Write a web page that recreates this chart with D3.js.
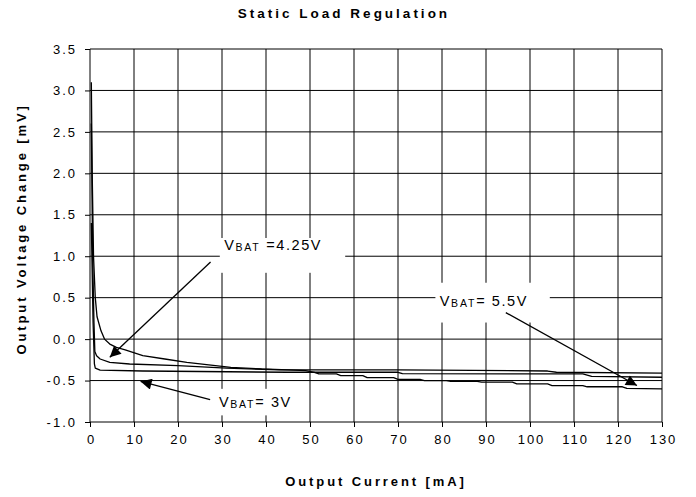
<!DOCTYPE html>
<html lang="en">
<meta charset="UTF-8">
<style>
    html, body{margin:0;padding:0;background:#fff;overflow:hidden;}
    svg{display:block;}
    text{font-family:"Liberation Sans",Arial,sans-serif;fill:#000;}
    .axis text{font-size:13px;letter-spacing:2px;}
    .axis path, .axis line{stroke:#000;}
    .grid line{stroke:#000;stroke-width:1;}
    .curve{fill:none;stroke:#000;stroke-width:1.3;stroke-linejoin:round;}
    .note{font-size:14.5px;letter-spacing:1.6px;}
    .note .sub{font-size:10.5px;letter-spacing:1.8px;}
    .title{font-size:13.5px;font-weight:bold;letter-spacing:3px;}
    .atitle{font-size:13px;font-weight:bold;letter-spacing:2.9px;}
</style>
<body>
<div id="chart"></div>
<script src="https://d3js.org/d3.v7.min.js"></script>
<script>
    // tick values
    var xTicks = [0,10,20,30,40,50,60,70,80,90,100,110,120,130];
    var yTicks = [-1.0,-0.5,0.0,0.5,1.0,1.5,2.0,2.5,3.0,3.5];

    // VBAT = 5.5V  (output current mA / output voltage change mV)
    var i55 = [0.3,0.5,0.8,1.2,1.6,2.5,3.3,4.5,6,8,12,17,22,27,32,39,45,49,51,52,56,57,62,63,69,70,75,76,81,82,88,89,96,97,104,105,112,113,121,122,130];
    var v55 = [3.1,2.0,1.0,0.5,0.27,0.1,0.0,-0.06,-0.1,-0.13,-0.2,-0.24,-0.28,-0.31,-0.34,-0.36,-0.37,-0.38,-0.40,-0.42,-0.42,-0.44,-0.44,-0.465,-0.465,-0.485,-0.485,-0.50,-0.50,-0.51,-0.51,-0.52,-0.52,-0.54,-0.54,-0.56,-0.56,-0.575,-0.575,-0.595,-0.60];

    // VBAT = 4.25V
    var i425 = [0.3,0.6,0.9,1.1,1.5,2.3,4.5,9,20,31,43,70,104,106,130];
    var v425 = [2.6,1.0,0.2,-0.15,-0.2,-0.24,-0.28,-0.30,-0.32,-0.35,-0.37,-0.37,-0.385,-0.40,-0.41];

    // VBAT = 3V
    var i3 = [0.3,0.7,1.0,1.2,2.3,12,45,70,71,112,114,130];
    var v3 = [1.4,0.2,-0.3,-0.35,-0.375,-0.385,-0.40,-0.40,-0.417,-0.42,-0.45,-0.46];

    var width = 696, height = 497;
    var margin = {top:49, right:34, bottom:75, left:90};
    var innerWidth = width-margin.left-margin.right;
    var innerHeight = height-margin.top-margin.bottom;

    var svg = d3.select("#chart").append("svg")
        .attr("width", width)
        .attr("height", height);

    var x = d3.scaleLinear().domain([0,130]).range([margin.left, margin.left+innerWidth]);
    var y = d3.scaleLinear().domain([-1,3.5]).range([margin.top+innerHeight, margin.top]);

    // grid
    var grid = svg.append("g").attr("class","grid");
    grid.selectAll("line.h").data(yTicks).enter().append("line")
        .attr("class","h")
        .attr("x1", x(0)).attr("x2", x(130))
        .attr("y1", function(d){return y(d);}).attr("y2", function(d){return y(d);});
    grid.selectAll("line.v").data(xTicks).enter().append("line")
        .attr("class","v")
        .attr("y1", y(-1)).attr("y2", y(3.5))
        .attr("x1", function(d){return x(d);}).attr("x2", function(d){return x(d);});

    // axes
    svg.append("g")
        .attr("class","axis")
        .attr("transform","translate(0,"+y(-1)+")")
        .call(d3.axisBottom(x).tickValues(xTicks).tickSize(5).tickPadding(8).tickFormat(function(d){return d;}))
        .call(function(g){g.select(".domain").remove();})
        .selectAll("text").attr("dx","1px");
    svg.append("g")
        .attr("class","axis")
        .attr("transform","translate("+x(0)+",0)")
        .call(d3.axisLeft(y).tickValues(yTicks).tickSize(5).tickPadding(8).tickFormat(function(d){return d.toFixed(1);}))
        .call(function(g){g.select(".domain").remove();});

    // curves
    function pts(xs, ys){ return xs.map(function(d,i){return [d, ys[i]];}); }
    var line = d3.line().x(function(d){return x(d[0]);}).y(function(d){return y(d[1]);});
    [pts(i55,v55), pts(i425,v425), pts(i3,v3)].forEach(function(s){
        svg.append("path").datum(s).attr("class","curve").attr("d", line);
    });

    // arrows
    svg.append("defs").append("marker")
        .attr("id","head")
        .attr("viewBox","0 0 10 10")
        .attr("refX",10).attr("refY",5)
        .attr("markerUnits","userSpaceOnUse")
        .attr("markerWidth",15).attr("markerHeight",11)
        .attr("orient","auto")
        .append("path").attr("d","M0,0L10,5L0,10z").attr("fill","#000");

    // labels with their arrows
    var notes = [
        {after:" =4.25V", box:[29.5,1.22,58,0.8], tx:30.5, ty:1.07, from:[27.4,0.93], to:[4.5,-0.22]},
        {after:"= 5.5V",  box:[78.5,0.68,104.5,0.2], tx:79.5, ty:0.405, from:[94.5,0.32], to:[124.3,-0.56]},
        {after:"= 3V",    box:[29,-0.6,48.5,-0.92], tx:29.3, ty:-0.82, from:[27.3,-0.73], to:[11.5,-0.51]}
    ];
    var ng = svg.selectAll("g.note").data(notes).enter().append("g").attr("class","note");
    ng.append("rect")
        .attr("x", function(d){return x(d.box[0]);})
        .attr("y", function(d){return y(d.box[1]);})
        .attr("width", function(d){return x(d.box[2])-x(d.box[0]);})
        .attr("height", function(d){return y(d.box[3])-y(d.box[1]);})
        .attr("fill","#fff");
    ng.append("line")
        .attr("x1", function(d){return x(d.from[0]);}).attr("y1", function(d){return y(d.from[1]);})
        .attr("x2", function(d){return x(d.to[0]);}).attr("y2", function(d){return y(d.to[1]);})
        .attr("stroke","#000").attr("stroke-width",1.3)
        .attr("marker-end","url(#head)");
    var t = ng.append("text")
        .attr("x", function(d){return x(d.tx);})
        .attr("y", function(d){return y(d.ty);});
    t.append("tspan").text("V");
    t.append("tspan").attr("class","sub").attr("dy",1).text("BAT");
    t.append("tspan").attr("dy",-1).text(function(d){return d.after;});

    // titles
    svg.append("text").attr("class","title")
        .attr("x", 344).attr("y", 18).attr("text-anchor","middle")
        .text("Static Load Regulation");
    svg.append("text").attr("class","atitle")
        .attr("x", x(65)).attr("y", 486).attr("text-anchor","middle")
        .text("Output Current [mA]");
    svg.append("text").attr("class","atitle")
        .attr("transform","translate(26,"+y(1.33)+") rotate(-90)")
        .attr("text-anchor","middle")
        .text("Output Voltage Change [mV]");
</script>
</body>
</html>
